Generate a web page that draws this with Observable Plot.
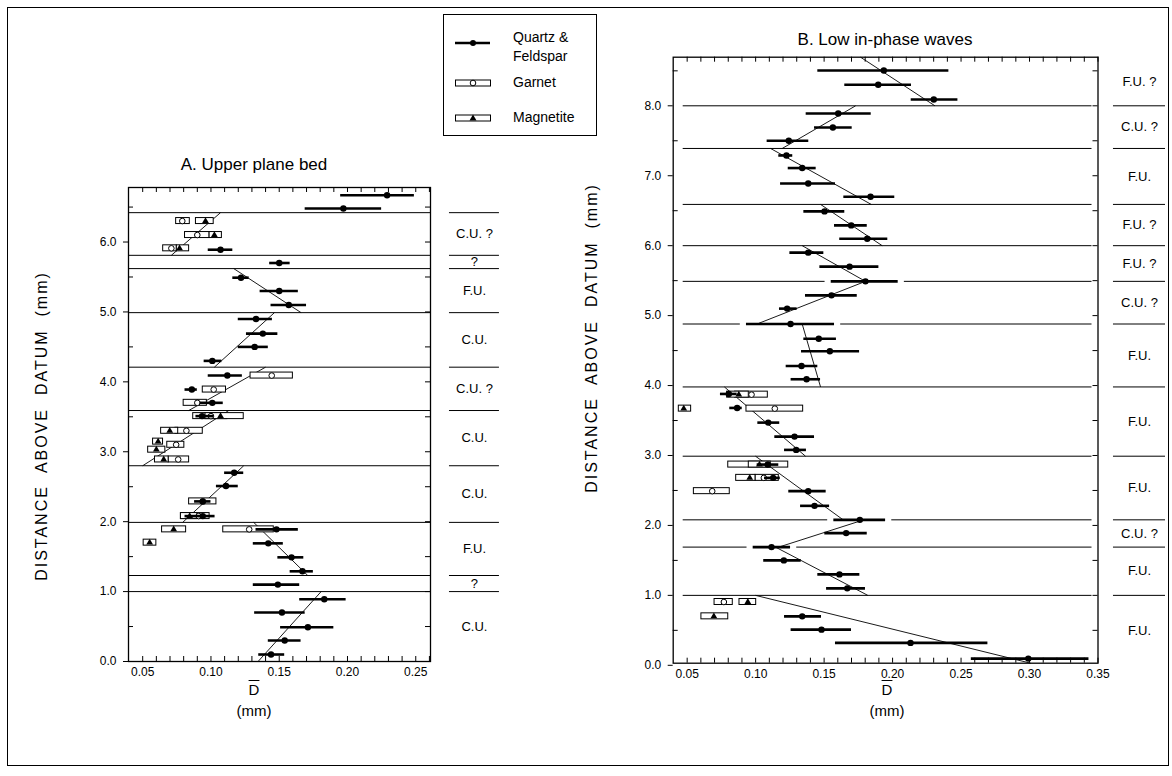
<!DOCTYPE html>
<html><head><meta charset="utf-8">
<script src="https://cdn.jsdelivr.net/npm/d3@7"></script>
<script src="https://cdn.jsdelivr.net/npm/@observablehq/plot@0.6"></script>
<style>
body{margin:0;background:#fff;font-family:"Liberation Sans",Arial,Helvetica,sans-serif;color:#000;}
#wrap{position:relative;width:1172px;height:776px;overflow:hidden;background:#fff;}
.abs{position:absolute;}
.ttl{position:absolute;text-align:center;font-size:17px;line-height:20px;white-space:nowrap;}
.xl{position:absolute;text-align:center;font-size:15px;line-height:21px;white-space:nowrap;}
.yl{position:absolute;transform:translate(-50%,-50%) rotate(-90deg);white-space:pre;font-size:16px;letter-spacing:2px;}
</style></head><body>
<div id="wrap">
  <div class="abs" style="left:7px;top:7px;width:1162px;height:759px;border:1px solid #000;box-sizing:border-box;"></div>
</div>
<script>
// ---------- Panel A: Upper plane bed ----------
// [height (mm), mean D (mm), low, high]
const aQuartz = [
  [6.67,0.229,0.195,0.249],[6.48,0.197,0.169,0.225],[5.89,0.107,0.098,0.116],
  [5.70,0.150,0.143,0.158],[5.49,0.122,0.116,0.128],[5.30,0.150,0.136,0.164],
  [5.10,0.157,0.144,0.170],[4.90,0.133,0.120,0.145],[4.69,0.138,0.126,0.149],
  [4.50,0.132,0.120,0.142],[4.30,0.101,0.095,0.108],[4.09,0.112,0.098,0.123],
  [3.89,0.086,0.081,0.090],[3.70,0.101,0.092,0.109],[3.51,0.0935,0.089,0.102],
  [2.70,0.117,0.110,0.124],[2.51,0.111,0.104,0.120],[2.29,0.094,0.088,0.100],
  [2.08,0.094,0.081,0.103],[1.89,0.148,0.133,0.164],[1.69,0.142,0.131,0.153],
  [1.49,0.159,0.149,0.168],[1.29,0.167,0.158,0.175],[1.10,0.149,0.131,0.165],
  [0.89,0.183,0.165,0.199],[0.70,0.152,0.132,0.169],[0.49,0.171,0.151,0.190],
  [0.30,0.154,0.142,0.166],[0.10,0.144,0.135,0.154]
];
const aGarnet = [
  [6.30,0.079,0.0745,0.0845],[6.10,0.090,0.081,0.099],[5.91,0.071,0.065,0.075],
  [4.09,0.1445,0.129,0.160],[3.89,0.102,0.094,0.111],[3.70,0.090,0.080,0.097],
  [3.51,0.100,0.087,0.112],[3.30,0.082,0.074,0.094],[3.10,0.0745,0.068,0.0805],
  [2.89,0.076,0.069,0.084],[2.29,0.094,0.084,0.104],[2.08,0.091,0.078,0.099],
  [1.89,0.128,0.109,0.146]
];
const aMagnetite = [
  [6.30,0.096,0.089,0.102],[6.10,0.1025,0.099,0.108],[5.91,0.077,0.075,0.084],
  [3.51,0.107,0.096,0.124],[3.30,0.0698,0.0635,0.076],[3.145,0.0613,0.0576,0.0649],
  [3.03,0.060,0.054,0.0666],[2.89,0.0654,0.059,0.069],[2.08,0.0844,0.078,0.090],
  [1.89,0.0727,0.0642,0.0818],[1.70,0.0551,0.0507,0.060]
];
// trend segments [D1, h1, D2, h2]
const aTrends = [
  [0.071,5.81,0.107,6.42],[0.1167,5.62,0.166,4.99],[0.1025,4.21,0.1465,4.99],
  [0.0837,3.59,0.140,4.21],[0.050,2.80,0.113,3.59],[0.0793,1.99,0.124,2.80],
  [0.1313,1.99,0.1709,1.23],[0.1345,0.0,0.1807,1.0]
];
const aBounds = [1.0,1.23,1.99,2.80,3.59,4.21,4.99,5.62,5.81,6.42];
const aLabels = ["C.U.","?","F.U.","C.U.","C.U.","C.U. ?","C.U.","F.U.","?","C.U. ?"];
const aXTickLabels = [0.05,0.10,0.15,0.20,0.25];
const aYTickLabels = [0,1,2,3,4,5,6];

// ---------- Panel B: Low in-phase waves ----------
const bQuartz = [
  [8.505,0.1936,0.1454,0.2411],[8.30,0.1895,0.1651,0.2138],[8.09,0.2301,0.2136,0.2477],
  [7.89,0.1603,0.1369,0.1844],[7.69,0.1564,0.143,0.1705],[7.50,0.1242,0.1084,0.1388],
  [7.29,0.1225,0.1169,0.1271],[7.11,0.134,0.1238,0.1442],[6.89,0.1384,0.1182,0.1583],
  [6.70,0.1839,0.1644,0.2016],[6.49,0.1503,0.1352,0.1651],[6.29,0.1698,0.1576,0.1815],
  [6.10,0.1815,0.1614,0.1965],[5.90,0.1384,0.125,0.1498],[5.70,0.1686,0.1469,0.19],
  [5.49,0.1802,0.1552,0.2041],[5.29,0.1554,0.1364,0.1742],[5.10,0.123,0.1174,0.1303],
  [4.88,0.1255,0.0933,0.1576],[4.67,0.1461,0.1352,0.159],[4.49,0.1542,0.1335,0.1759],
  [4.28,0.1335,0.1223,0.1454],[4.09,0.1372,0.1259,0.1474],[3.88,0.0804,0.0743,0.0865],
  [3.68,0.0865,0.0811,0.0902],[3.47,0.1092,0.1016,0.1176],[3.27,0.1284,0.114,0.143],
  [3.08,0.1296,0.1211,0.1371],[2.87,0.1089,0.1011,0.1169],[2.68,0.1128,0.1065,0.118],
  [2.49,0.1384,0.1242,0.1515],[2.28,0.143,0.1328,0.154],[2.08,0.1761,0.1571,0.1949],
  [1.89,0.1661,0.1505,0.1815],[1.69,0.1116,0.0982,0.1255],[1.50,0.1206,0.1059,0.1333],
  [1.30,0.1612,0.1454,0.1761],[1.10,0.1669,0.1518,0.1802],[0.70,0.134,0.1211,0.1481],
  [0.51,0.1481,0.1259,0.17],[0.32,0.2131,0.1583,0.2696],[0.096,0.2991,0.2575,0.3434]
];
const bGarnet = [
  [3.87,0.097,0.085,0.1089],[3.67,0.114,0.0933,0.1347],[2.87,0.1089,0.080,0.1238],
  [2.68,0.106,0.0999,0.1169],[2.49,0.0683,0.0549,0.0811],[0.905,0.0768,0.070,0.0833]
];
const bMagnetite = [
  [3.87,0.0877,0.0792,0.095],[3.67,0.0475,0.0439,0.0529],[2.87,0.1028,0.095,0.111],
  [2.68,0.0957,0.0858,0.0999],[0.905,0.0943,0.0882,0.1004],[0.70,0.0695,0.0604,0.080]
];
const bTrends = [
  [0.1766,8.695,0.2309,8.0],[0.1194,7.39,0.173,8.0],[0.1109,7.39,0.1844,6.59],
  [0.1474,6.59,0.1924,6.0],[0.134,6.0,0.1802,5.49],[0.1802,5.49,0.1023,4.89],
  [0.134,4.88,0.1474,3.98],[0.0772,3.98,0.1364,2.99],[0.0999,2.99,0.1639,2.08],
  [0.179,2.08,0.1169,1.69],[0.1145,1.69,0.1819,1.0],[0.0999,1.0,0.3008,0.03]
];
const bBounds = [1.0,1.69,2.08,2.99,3.98,4.88,5.49,6.0,6.59,7.39,8.0];
const bLabels = ["F.U.","F.U.","C.U. ?","F.U.","F.U.","F.U.","C.U. ?","F.U. ?","F.U. ?","F.U.","C.U. ?","F.U. ?"];
const bXTickLabels = [0.05,0.10,0.15,0.20,0.25,0.30,0.35];
const bYTickLabels = [0,1,2,3,4,5,6,7,8];

const FONT = '"Liberation Sans", Arial, Helvetica, sans-serif';
const toObj = a => a.map(([y,m,lo,hi]) => ({y,m,lo,hi}));

function panel(cfg) {
  const {width, height, margin, xDomain, yDomain, quartz, garnet, magnetite, trends,
         bounds, labels, xTickLabels, yTickLabels, col, lineInset, halo} = cfg;
  const frameW = width - margin.left - margin.right;
  const frameH = height - margin.top - margin.bottom;
  const Q = toObj(quartz), G = toObj(garnet), M = toObj(magnetite);
  const T = trends.map(([x1,y1,x2,y2]) => ({x1,y1,x2,y2}));
  const edges = [0, ...bounds, yDomain[1]];
  const bands = labels.map((t,i) => ({t, y:(edges[i]+edges[i+1])/2}));
  const xMinor = d3.range(5, 40).map(d => d/100).filter(d => d <= xDomain[1] + 1e-9 && d >= xDomain[0]);
  const yHalf = d3.range(1, Math.floor(yDomain[1]*2)+1).map(d => d/2);
  const yOdd = yHalf.filter(d => d % 1 !== 0);
  const hx = 0.0045;
  return Plot.plot({
    width, height,
    marginTop: margin.top, marginRight: margin.right, marginBottom: margin.bottom, marginLeft: margin.left,
    x: {domain: xDomain, axis: null},
    y: {domain: yDomain, axis: null},
    style: {fontFamily: FONT, fontSize: "12px", color: "black", background: "transparent", overflow: "visible"},
    marks: [
      Plot.ruleY(bounds, {insetLeft: lineInset[0], insetRight: lineInset[1], stroke: "black", strokeWidth: 1}),
      Plot.ruleY(bounds, {x1: col.x1, x2: col.x2, stroke: "black", strokeWidth: 1}),
      Plot.text(bands, {x: col.xc, y: "y", text: "t", fontSize: 13, fill: "black"}),
      halo ? Plot.ruleY(Q, {y: "y", x1: d => d.lo - hx, x2: d => d.hi + hx, stroke: "white", strokeWidth: 5}) : null,
      Plot.link(T, {x1: "x1", y1: "y1", x2: "x2", y2: "y2", stroke: "black", strokeWidth: 0.9}),
      Plot.rect(G, {x1: "lo", x2: "hi", y1: "y", y2: "y", insetTop: -3, insetBottom: -3, fill: "white", stroke: "black", strokeWidth: 1}),
      Plot.rect(M, {x1: "lo", x2: "hi", y1: "y", y2: "y", insetTop: -3, insetBottom: -3, fill: "white", stroke: "black", strokeWidth: 1}),
      Plot.dot(G, {x: "m", y: "y", r: 2.8, fill: "white", stroke: "black", strokeWidth: 1}),
      Plot.dot(M, {x: "m", y: "y", symbol: "triangle", r: 2.5, fill: "black"}),
      Plot.ruleY(Q, {y: "y", x1: "lo", x2: "hi", stroke: "black", strokeWidth: 2.6}),
      Plot.dot(Q, {x: "m", y: "y", r: 3.2, fill: "black"}),
      Plot.frame({stroke: "black", strokeWidth: 1.3}),
      Plot.tickX(xMinor, {x: d => d, insetTop: frameH - 5, stroke: "black"}),
      Plot.tickX(xMinor, {x: d => d, insetBottom: frameH - 5, stroke: "black"}),
      Plot.tickY(yOdd, {y: d => d, insetRight: frameW - 5, stroke: "black"}),
      Plot.tickY(yHalf, {y: d => d, insetLeft: frameW - 5, stroke: "black"}),
      Plot.axisX(xTickLabels, {anchor: "bottom", tickSize: 0, tickPadding: 6, tickFormat: d => d.toFixed(2), label: null, fontSize: 12}),
      Plot.axisY(yTickLabels, {anchor: "left", tickSize: 5, tickPadding: 7, tickFormat: d => d.toFixed(1), label: null, fontSize: 12})
    ]
  });
}

const wrap = document.getElementById("wrap");
function place(node, left, top) {
  node.style.position = "absolute";
  node.style.left = left + "px";
  node.style.top = top + "px";
  wrap.appendChild(node);
}

place(panel({
  width: 560, height: 740,
  margin: {top: 187, right: 130, bottom: 79, left: 128},
  xDomain: [0.0396, 0.2608], yDomain: [0, 6.78],
  quartz: aQuartz, garnet: aGarnet, magnetite: aMagnetite, trends: aTrends,
  bounds: aBounds, labels: aLabels, xTickLabels: aXTickLabels, yTickLabels: aYTickLabels,
  col: {x1: 0.2747, x2: 0.3113, xc: 0.2930}, lineInset: [0, 0], halo: false
}), 0, 0);

place(panel({
  width: 612, height: 740,
  margin: {top: 56.7, right: 74.5, bottom: 77.3, left: 112.7},
  xDomain: [0.0398, 0.35], yDomain: [0.03, 8.695],
  quartz: bQuartz, garnet: bGarnet, magnetite: bMagnetite, trends: bTrends,
  bounds: bBounds, labels: bLabels, xTickLabels: bXTickLabels, yTickLabels: bYTickLabels,
  col: {x1: 0.3613, x2: 0.3993, xc: 0.3803}, lineInset: [10, 6], halo: true
}), 560, 0);

// Texts
function addDiv(cls, style, html) {
  const d = document.createElement("div");
  d.className = cls; d.setAttribute("style", style); d.innerHTML = html;
  wrap.appendChild(d);
}
addDiv("ttl", "left:154px;top:155px;width:200px;", "A. Upper plane bed");
addDiv("ttl", "left:785px;top:30px;width:200px;", "B. Low in-phase waves");
addDiv("xl", "left:204px;top:679px;width:100px;", '<span style="text-decoration:overline">D</span><br>(mm)');
addDiv("xl", "left:837px;top:679px;width:100px;", '<span style="text-decoration:overline">D</span><br>(mm)');
addDiv("yl", "left:42px;top:426px;", "DISTANCE  ABOVE  DATUM  (mm)");
addDiv("yl", "left:592px;top:338px;", "DISTANCE  ABOVE  DATUM  (mm)");

// Legend
const lg = document.createElement("div");
lg.setAttribute("style", "position:absolute;left:443px;top:14px;width:154px;height:122px;border:1px solid #000;box-sizing:border-box;background:#fff;");
lg.innerHTML = `<svg width="152" height="120" style="position:absolute;left:0;top:0" font-family='${FONT}' font-size="14">
  <line x1="11" x2="46" y1="28" y2="28" stroke="#000" stroke-width="2.5"/>
  <circle cx="29" cy="28" r="3" fill="#000"/>
  <text x="69" y="22" dy="0.35em">Quartz &amp;</text>
  <text x="69" y="41" dy="0.35em">Feldspar</text>
  <rect x="11.5" y="65" width="35" height="6" fill="#fff" stroke="#000"/>
  <circle cx="29" cy="68" r="2.8" fill="#fff" stroke="#000"/>
  <text x="69" y="67" dy="0.35em">Garnet</text>
  <rect x="11.5" y="100" width="35" height="6" fill="#fff" stroke="#000"/>
  <path d="M29,99.5 L32.5,105.5 L25.5,105.5 Z" fill="#000"/>
  <text x="69" y="102" dy="0.35em">Magnetite</text>
</svg>`;
wrap.appendChild(lg);
</script>
</body></html>
